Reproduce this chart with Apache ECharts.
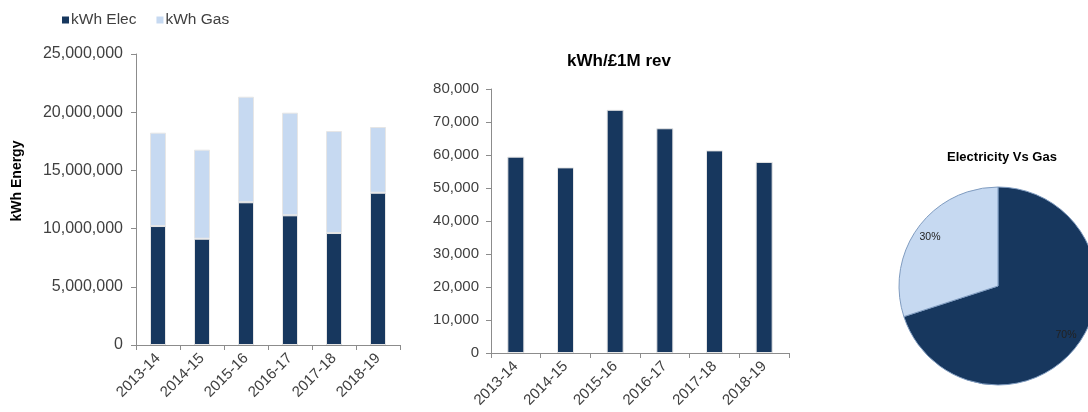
<!DOCTYPE html>
<html>
<head>
<meta charset="utf-8">
<script src="https://cdn.jsdelivr.net/npm/echarts@6/dist/echarts.min.js"></script>
<style>
  html, body { margin: 0; padding: 0; background: #fff; }
  #chart { width: 1088px; height: 412px; }
</style>
</head>
<body>
<div id="chart"></div>
<script>
// values
const years = ['2013-14', '2014-15', '2015-16', '2016-17', '2017-18', '2018-19']
const kwhElec = [10220000, 9130000, 12260000, 11140000, 9620000, 13080000]
const kwhGas = [8020000, 7650000, 9070000, 8820000, 8760000, 5650000]
const kwhPerRev = [59500, 56250, 73700, 68100, 61400, 57900]
const pieNames = ['Electricity', 'Gas']
const pieShares = [70, 30]

const navy = '#17375e'
const pale = '#c6d9f1'
const font = 'Liberation Sans, Arial, sans-serif'
const txt = '#404040'
const axisGrey = '#8c8c8c'

const fmt = v => v.toLocaleString('en-US')

function catAxis (gridIndex) {
  return {
    type: 'category',
    gridIndex,
    data: years,
    axisLine: { lineStyle: { color: axisGrey } },
    axisTick: { show: true, alignWithLabel: false, length: 5, lineStyle: { color: axisGrey } },
    axisLabel: { rotate: 45, color: txt, fontFamily: font, fontSize: 15, margin: 11 }
  }
}

function valAxis (gridIndex, max, interval, size, margin) {
  return {
    type: 'value',
    gridIndex,
    min: 0,
    max,
    interval,
    splitLine: { show: false },
    axisLine: { show: true, lineStyle: { color: axisGrey } },
    axisTick: { show: true, length: 5, lineStyle: { color: axisGrey } },
    axisLabel: { color: txt, fontFamily: font, fontSize: size, margin, formatter: fmt }
  }
}

const pieData = pieNames.map((n, i) => ({ name: n, value: pieShares[i] }))

const option = {
  animation: false,
  textStyle: { fontFamily: font },
  legend: {
    left: 57,
    top: 7,
    icon: 'rect',
    itemWidth: 7,
    itemHeight: 7,
    itemGap: 20,
    itemStyle: { borderWidth: 0 },
    textStyle: { color: txt, fontSize: 15.5, fontFamily: font, padding: [0, 0, 0, -3] },
    data: ['kWh Elec', 'kWh Gas']
  },
  title: [
    {
      text: 'kWh/£1M rev',
      left: 614, top: 48, textAlign: 'center',
      textStyle: { fontSize: 17, fontWeight: 'bold', color: '#000', fontFamily: font }
    },
    {
      text: 'Electricity Vs Gas',
      left: 997, top: 146, textAlign: 'center',
      textStyle: { fontSize: 13, fontWeight: 'bold', color: '#000', fontFamily: font }
    }
  ],
  graphic: [
    {
      type: 'text',
      x: 17, y: 181,
      rotation: Math.PI / 2,
      style: {
        text: 'kWh Energy', align: 'center', verticalAlign: 'middle',
        font: 'bold 14px ' + font, fill: '#000'
      }
    }
  ],
  grid: [
    { left: 136, top: 54, width: 264, height: 291 },
    { left: 491, top: 89, width: 298, height: 264 }
  ],
  xAxis: [catAxis(0), catAxis(1)],
  yAxis: [
    valAxis(0, 25000000, 5000000, 16, 13),
    valAxis(1, 80000, 10000, 15, 12)
  ],
  series: [
    {
      name: 'kWh Elec', type: 'bar', stack: 'energy',
      xAxisIndex: 0, yAxisIndex: 0,
      barWidth: 16,
      itemStyle: { color: navy, borderColor: '#e6e6e6', borderWidth: 1 },
      data: kwhElec
    },
    {
      name: 'kWh Gas', type: 'bar', stack: 'energy',
      xAxisIndex: 0, yAxisIndex: 0,
      barWidth: 16,
      itemStyle: { color: pale, borderColor: '#e6e6e6', borderWidth: 1 },
      data: kwhGas
    },
    {
      name: 'kWh/£1M rev', type: 'bar',
      xAxisIndex: 1, yAxisIndex: 1,
      barWidth: 17,
      itemStyle: { color: navy, borderColor: '#e6e6e6', borderWidth: 1 },
      data: kwhPerRev
    },
    {
      type: 'pie',
      center: [998, 286],
      radius: 99,
      startAngle: 90,
      clockwise: true,
      label: { show: false },
      labelLine: { show: false },
      itemStyle: { borderColor: '#7f9bbf', borderWidth: 1 },
      color: [navy, pale],
      data: pieData
    },
    {
      // transparent ring only to place the percent labels further out
      type: 'pie',
      center: [998, 286],
      radius: [63, 99],
      startAngle: 90,
      clockwise: true,
      silent: true,
      itemStyle: { color: 'rgba(0,0,0,0)' },
      label: {
        show: true, position: 'inside', formatter: '{d}%',
        color: '#222', fontSize: 10.5, fontFamily: font
      },
      labelLine: { show: false },
      data: pieData
    }
  ]
}

const myChart = echarts.init(document.getElementById('chart'))
myChart.setOption(option)
</script>
</body>
</html>
